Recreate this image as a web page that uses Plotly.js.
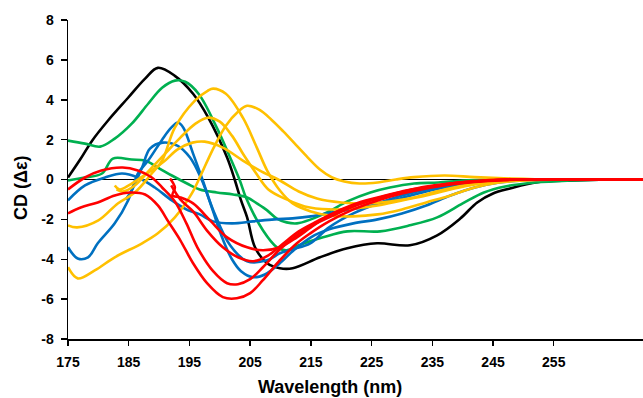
<!DOCTYPE html>
<html>
<head>
<meta charset="utf-8">
<script src="https://cdn.plot.ly/plotly-3.0.1.min.js"></script>
<style>html,body{margin:0;padding:0;background:#fff;}#chart{width:643px;height:398px;}</style>
</head>
<body>
<div id="chart"></div>
<script>
// Wavelength (nm) / CD (Δε)
const blackX = [175,177,179,181.6,184.9,187.7,189.8,192.6,195.6,198.1,201.2,202.5,203.5,204.5,205.8,207.8,209.9,212,216.5,221,225.9,231.3,235.8,239.6,242.4,245,247.8,252,258,264,270];
const blackY = [0.1,1.0,1.96,2.96,4.1,5.06,5.6,5.2,4.3,3.1,1.1,-0.05,-1.05,-1.9,-3.4,-4.2,-4.45,-4.45,-3.9,-3.45,-3.2,-3.3,-2.8,-1.96,-1.15,-0.7,-0.45,-0.15,-0.05,0,0];

const green1X = [175,177.8,180.3,182.7,185.5,188.2,190.5,192.6,194.3,196.5,199.5,201.7,203.3,204.3,207.1,209.4,211,213,217,221,226.4,231.3,235.8,240,243.5,247,252,258,264,270];
const green1Y = [1.95,1.8,1.65,2.05,2.8,3.8,4.6,4.96,4.9,4.3,2.6,1.1,-0.05,-0.9,-2.55,-3.4,-3.55,-3.3,-2.9,-2.6,-2.6,-2.3,-1.9,-1.2,-0.65,-0.35,-0.15,-0.05,0,0];

const green2X = [175,177.8,180.6,182.4,185.5,187.7,189.8,192.1,194.6,196.7,199.5,202.2,204.5,206.1,207.8,209.4,211,212.7,215,218,221,224.8,228,232,236,240,245,250,258,264,270];
const green2Y = [-0.05,0.1,0.3,1.05,1.0,0.95,0.6,0.2,-0.2,-0.5,-0.65,-0.75,-0.9,-1.2,-1.55,-1.96,-2.15,-2.2,-2.0,-1.6,-1.1,-0.65,-0.4,-0.2,-0.15,-0.05,0,0,0,0,0];

const yellow1X = [175,176.6,179.4,182.7,187.2,189.8,192.6,195.4,197,199,201,203,204.5,206.5,208.5,210.5,212.5,214.5,216.5,218.5,220.5,223,226,229,232,237,242,248,255,262,270];
const yellow1Y = [-4.4,-4.96,-4.56,-3.9,-3.2,-2.7,-1.9,-0.7,0.3,1.6,2.7,3.4,3.7,3.5,3.0,2.4,1.75,1.1,0.5,0.1,-0.1,-0.2,-0.15,0.0,0.12,0.2,0.12,0.05,0,0,0];

const yellow2X = [175,176.5,180,183.2,186,188.8,190.5,192.6,195.9,198,198.9,201,203.8,206.1,207.8,209.9,212,215,218,222,226,230,234,238,242,246,250,258,270];
const yellow2Y = [-2.3,-2.4,-2.05,-1.2,-0.65,0.3,0.95,2.6,3.96,4.45,4.56,4.3,3.1,1.6,0.45,-0.55,-1.2,-1.6,-1.8,-1.85,-1.75,-1.5,-1.15,-0.8,-0.4,-0.15,-0.05,0,0];

const yellow3X = [182.7,183.5,185,186.5,188.8,191,193,195.5,197.5,200.5,203.8,206.6,209.9,213,216,220,224,228,232,237,242,248,255,262,270];
const yellow3Y = [-0.3,-0.5,-0.3,0.0,0.45,0.95,1.5,1.85,1.9,1.6,0.95,0.45,-0.05,-0.6,-0.95,-1.15,-1.2,-1.1,-0.9,-0.5,-0.2,-0.05,0,0,0];

const yellow4X = [183,184,186,188.5,191,193.5,196,198,200,202,204,206,208,211,214,218,222,226,230,234,238,242,247,252,260,270];
const yellow4Y = [-0.5,-0.6,-0.3,0.5,1.3,2.1,2.8,3.1,2.9,2.2,1.2,0.3,-0.5,-1.0,-1.35,-1.5,-1.45,-1.3,-1.05,-0.8,-0.5,-0.25,-0.1,0,0,0];

const blue1X = [175,177.8,181.1,183.9,186.5,189.3,192.1,194.8,196.7,198.9,202,205.5,209,212,215,218.6,224.3,229.7,234,238,242,247,252,260,270];
const blue1Y = [-1.05,-0.3,0.1,0.3,0.1,-0.4,-1.05,-1.55,-1.75,-2.1,-2.2,-2.1,-2.0,-1.95,-1.85,-1.65,-1.35,-0.95,-0.6,-0.35,-0.15,-0.05,0,0,0];

const blue2X = [175,176.6,178.3,179.9,182.7,184.9,186.5,188.2,190.5,192,193.1,194,195.6,197.2,198.9,200.5,202,203.5,205.5,207.5,209.5,212,215,218,222,226,230,234,238,242,246,250,258,270];
const blue2Y = [-3.4,-3.96,-3.9,-3.2,-2.2,-1.05,0.3,0.95,2.0,2.6,2.86,2.6,1.3,-0.05,-1.6,-3.0,-4.0,-4.6,-4.9,-4.75,-4.3,-3.6,-2.9,-2.5,-2.2,-2.0,-1.7,-1.3,-0.8,-0.4,-0.15,-0.05,0,0];

const blue3X = [184.5,185.5,187.2,188.5,190.6,193,195.1,197,199,201.7,204.5,207.8,209.9,212,214.9,218,222,226,230,234,238,242,247,252,260,270];
const blue3Y = [-1.0,-0.55,0.6,1.55,1.85,1.7,1.1,0.0,-1.6,-3.3,-4.1,-4.05,-3.7,-3.5,-3.2,-2.4,-1.7,-1.2,-0.8,-0.5,-0.3,-0.15,-0.05,0,0,0];

const red1X = [175,177.8,180.5,184,186.5,188.8,190.5,192.6,194.5,196.3,198.9,201.2,203,205,207.1,209.9,212.7,214.9,218,222,226,230,234,238,242,246,250,258,270];
const red1Y = [-0.5,0.1,0.45,0.6,0.45,0.1,-0.4,-1.1,-2.2,-3.4,-4.6,-5.2,-5.25,-5.0,-4.4,-3.5,-2.8,-2.35,-1.9,-1.35,-0.95,-0.65,-0.4,-0.2,-0.1,-0.03,0,0,0];

const red2X = [175,177.1,179.9,182.7,185.3,187.7,189.8,191.5,193.5,195.6,197.9,200.5,202.8,205,207.1,209.9,212.7,214.9,218,222,226,230,234,238,242,246,250,258,270];
const red2Y = [-1.7,-1.4,-1.15,-0.8,-0.65,-0.75,-1.3,-2.1,-3.05,-4.2,-5.2,-5.9,-5.96,-5.7,-5.05,-4.05,-3.2,-2.7,-2.1,-1.5,-1.05,-0.7,-0.45,-0.25,-0.12,-0.05,0,0,0];

const red3X = [191.8,192.6,192.2,193.5,195.6,198.4,201.2,204.5,207.1,209.9,212.7,215,218,222,226,230,234,238,242,246,250,258,270];
const red3Y = [0.05,-0.4,-0.8,-0.9,-1.2,-2.05,-2.9,-3.4,-3.55,-3.4,-2.9,-2.4,-1.8,-1.25,-0.9,-0.6,-0.35,-0.2,-0.08,0,0,0,0];

const red4X = [192,193.5,195.6,198,200.5,203,205.5,208,210.5,213,216,219,223,227,231,235,239,243,248,255,270];
const red4Y = [-0.3,-1.0,-1.6,-2.6,-3.4,-3.9,-4.1,-3.8,-3.2,-2.6,-2.1,-1.65,-1.2,-0.85,-0.55,-0.35,-0.18,-0.08,0,0,0];

const xTicks = [175,185,195,205,215,225,235,245,255];
const yTicks = [-8,-6,-4,-2,0,2,4,6,8];

const BLACK = '#000000', GREEN = '#00b050', YELLOW = '#ffc000', BLUE = '#0070c0', RED = '#ff0000';

function tr(x, y, c) {
  return {x: x, y: y, type: 'scatter', mode: 'lines',
    line: {color: c, width: 2.6, shape: 'spline', smoothing: 1},
    hoverinfo: 'skip', showlegend: false};
}

const data = [
  tr(blackX, blackY, BLACK),
  tr(green1X, green1Y, GREEN),
  tr(green2X, green2Y, GREEN),
  tr(blue1X, blue1Y, BLUE),
  tr(blue2X, blue2Y, BLUE),
  tr(blue3X, blue3Y, BLUE),
  tr(yellow1X, yellow1Y, YELLOW),
  tr(yellow2X, yellow2Y, YELLOW),
  tr(yellow3X, yellow3Y, YELLOW),
  tr(yellow4X, yellow4Y, YELLOW),
  tr(red1X, red1Y, RED),
  tr(red2X, red2Y, RED),
  tr(red3X, red3Y, RED),
  tr(red4X, red4Y, RED)
];

const FONT = 'Arial, "Liberation Sans", sans-serif';

const layout = {
  width: 643, height: 398,
  margin: {l: 68, r: 0, t: 20, b: 59},
  paper_bgcolor: '#ffffff', plot_bgcolor: '#ffffff',
  showlegend: false,
  xaxis: {
    range: [175, 269.7], tickvals: xTicks, ticktext: xTicks.map(String),
    showline: true, linecolor: '#000', linewidth: 1.5,
    ticks: 'outside', ticklen: 5, tickwidth: 1.5, tickcolor: '#000',
    ticklabelstandoff: 5,
    showgrid: false, zeroline: false,
    tickfont: {family: FONT, size: 14, color: '#000', weight: 'bold'}
  },
  yaxis: {
    range: [-8, 8], tickvals: yTicks, ticktext: yTicks.map(String),
    showline: true, linecolor: '#000', linewidth: 1.5,
    ticks: 'outside', ticklen: 6, tickwidth: 1.5, tickcolor: '#000',
    ticklabelstandoff: 4,
    showgrid: false, zeroline: true, zerolinecolor: '#000', zerolinewidth: 1.5,
    tickfont: {family: FONT, size: 14, color: '#000', weight: 'bold'}
  },
  annotations: [
    {text: 'Wavelength (nm)', xref: 'paper', yref: 'paper', x: 0.456, y: -0.15,
     xanchor: 'center', yanchor: 'middle', showarrow: false,
     font: {family: FONT, size: 18, color: '#000', weight: 'bold'}},
    {text: 'CD (Δε)', xref: 'paper', yref: 'paper', x: (21 - 68) / 575, y: (339 - 188) / 319,
     xanchor: 'center', yanchor: 'middle', showarrow: false, textangle: -90,
     font: {family: FONT, size: 18, color: '#000', weight: 'bold'}}
  ]
};

Plotly.newPlot('chart', data, layout, {staticPlot: true, displayModeBar: false});
</script>
</body>
</html>
